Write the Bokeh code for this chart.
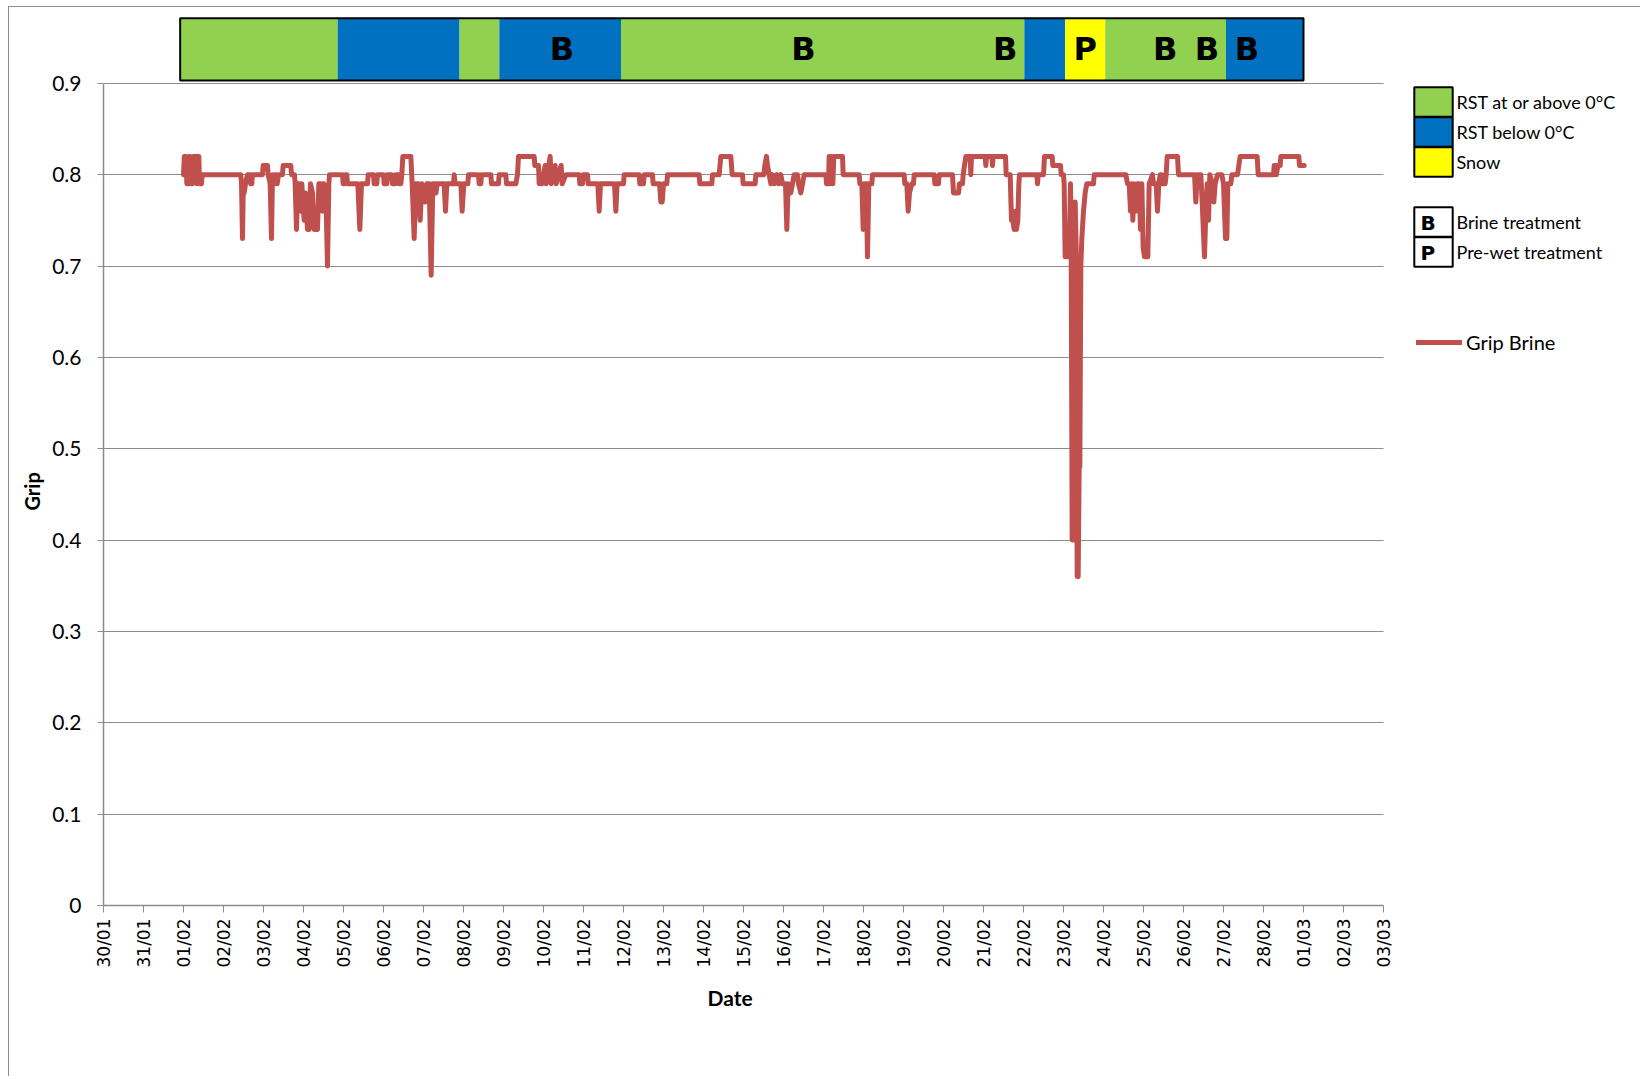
import numpy as np
import pandas as pd
from math import pi
from bokeh.plotting import figure
from bokeh.models import (FixedTicker, DatetimeTickFormatter, Legend, LegendItem,
                          Title, Label, ColumnDataSource, Range1d)
from bokeh.embed import file_html
from bokeh.resources import INLINE
from bokeh.core.properties import value

# ---------------- data ----------------
# hours since 01/02 00:00 and grip readings
grip_hours = [
    0, 0.5, 1.5, 2.0, 3.0, 3.4, 4.0, 4.4, 5.4, 5.8, 7.6, 8.0, 8.6, 9.2, 9.6, 10.8, 11.2,
    34.4, 34.8, 35.4, 35.9, 36.4, 37.2, 38.4, 40.0, 40.3, 41.0, 41.3, 47.4, 47.8, 50.4, 50.8,
    52.0, 52.8, 53.4, 54.4, 55.4, 56.2, 57.0, 59.4, 59.8, 64.4, 64.8, 66.6, 67.0, 67.8, 68.6,
    69.6, 70.4, 71.0, 72.4, 73.2, 74.4, 75.4, 76.2, 77.4, 78.4, 79.4, 80.4, 81.2, 82.6, 83.4,
    84.2, 85.4, 86.4, 87.2, 87.6, 95.4, 95.8, 96.8, 97.2, 98.0, 98.4, 104.6, 105.8, 106.8,
    110.4, 110.8, 114.0, 114.4, 116.0, 116.4, 120.0, 120.4, 122.0, 122.4, 125.0, 125.4, 127.0,
    127.4, 129.0, 129.4, 130.4, 131.0, 131.6, 136.4, 137.2, 138.4, 139.4, 141.0, 142.0, 143.0,
    145.0, 146.0, 147.4, 148.6, 149.6, 151.0, 151.5, 152.2, 156.4, 157.2, 158.0, 162.0, 162.4,
    163.0, 166.4, 167.2, 168.2, 170.6, 171.0, 177.0, 177.4, 178.4, 178.8, 184.4, 184.8, 189.0,
    189.4, 193.4, 193.8, 199.4, 200.4, 201.0, 210.4, 210.8, 213.0, 213.4, 214.6, 215.0, 217.0,
    217.6, 220.0, 220.6, 223.0, 223.6, 226.6, 227.2, 229.4, 237.4, 237.8, 239.4, 239.8, 242.4,
    242.8, 248.6, 249.4, 250.2, 258.6, 259.4, 260.2, 264.0, 264.4, 273.4, 273.8, 276.0, 276.4,
    281.4, 281.8, 285.6, 286.4, 287.2, 288.0, 290.0, 290.4, 309.4, 309.8, 317.0, 317.4, 321.4,
    322.4, 328.4, 329.2, 335.4, 335.8, 343.0, 343.4, 348.2, 348.8, 349.8, 350.4, 351.4, 352.4,
    353.4, 354.4, 356.0, 357.0, 358.4, 359.4, 361.2, 362.0, 362.8, 364.4, 365.4, 366.4, 368.4,
    369.0, 370.4, 371.4, 372.4, 385.4, 385.8, 387.0, 387.4, 388.2, 388.8, 389.6, 390.2, 395.4,
    395.8, 405.4, 405.8, 407.0, 407.8, 408.6, 409.6, 410.4, 411.2, 413.0, 413.4, 432.4, 432.8,
    434.0, 434.8, 435.6, 437.0, 438.0, 438.4, 450.4, 450.8, 453.0, 453.4, 461.4, 462.0, 465.0,
    465.6, 467.4, 467.8, 468.6, 469.4, 472.0, 472.4, 472.8, 481.0, 481.4, 481.8, 485.0, 485.4,
    485.8, 493.2, 493.6, 496.0, 496.8, 497.6, 498.4, 499.2, 499.8, 500.6, 501.2, 501.6, 512.0,
    512.4, 512.8, 516.0, 516.6, 521.2, 521.6, 526.2, 526.6, 528.0, 528.4, 529.0, 531.4, 532.2,
    532.6, 533.2, 534.6, 535.0, 535.6, 536.2, 536.8, 537.4, 537.8, 538.4, 539.0, 540.0, 541.0,
    542.0, 546.0, 546.4, 565.4, 566.4, 567.4, 568.2, 569.0, 569.6, 570.4, 571.4, 572.2, 573.4,
    574.2, 575.0, 575.8, 576.6, 578.6, 579.4, 581.4, 582.0, 583.6, 584.4, 585.2, 586.0, 587.0,
    587.4, 589.0, 589.6, 590.2, 596.4, 597.0, 606.6, 607.4, 608.2, 610.4, 611.2, 612.6, 613.4,
    614.2, 615.0, 615.8, 617.2, 618.2, 619.0, 620.4, 623.0, 624.0, 625.2, 626.0, 626.6, 628.4,
    629.0, 632.4, 633.2, 634.0, 644.2, 644.8, 654.0, 654.4, 655.4, 655.8, 656.6, 658.0, 658.4,
    669.2, 669.6, 672.4,
]
grip_values = [
    0.80, 0.82, 0.82, 0.79, 0.79, 0.82, 0.82, 0.79, 0.79, 0.82, 0.82, 0.79, 0.82, 0.82, 0.79, 0.79, 0.80,
    0.80, 0.79, 0.73, 0.79, 0.78, 0.79, 0.80, 0.80, 0.79, 0.79, 0.80, 0.80, 0.81, 0.81, 0.80,
    0.79, 0.73, 0.80, 0.79, 0.80, 0.79, 0.80, 0.80, 0.81, 0.81, 0.80, 0.80, 0.79, 0.74, 0.79,
    0.79, 0.76, 0.79, 0.75, 0.78, 0.74, 0.74, 0.79, 0.78, 0.74, 0.75, 0.74, 0.79, 0.79, 0.76,
    0.79, 0.78, 0.70, 0.79, 0.80, 0.80, 0.79, 0.79, 0.80, 0.80, 0.79, 0.79, 0.74, 0.79,
    0.79, 0.80, 0.80, 0.79, 0.79, 0.80, 0.80, 0.79, 0.79, 0.80, 0.80, 0.79, 0.79,
    0.80, 0.80, 0.79, 0.79, 0.80, 0.82, 0.82, 0.79, 0.73, 0.79, 0.79, 0.75, 0.79,
    0.77, 0.79, 0.79, 0.69, 0.79, 0.79, 0.78, 0.79, 0.79, 0.76, 0.79, 0.79, 0.80,
    0.79, 0.79, 0.76, 0.79, 0.79, 0.80, 0.80, 0.79, 0.79, 0.80, 0.80, 0.79, 0.79,
    0.80, 0.80, 0.79, 0.79, 0.80, 0.82, 0.82, 0.81, 0.81, 0.79, 0.80, 0.79, 0.81,
    0.79, 0.82, 0.79, 0.81, 0.79, 0.81, 0.79, 0.80, 0.80, 0.79, 0.79, 0.80, 0.80,
    0.79, 0.79, 0.76, 0.79, 0.79, 0.76, 0.79, 0.79, 0.80, 0.80, 0.79, 0.79, 0.80,
    0.80, 0.79, 0.79, 0.77, 0.77, 0.79, 0.79, 0.80, 0.80, 0.79, 0.79, 0.80, 0.80,
    0.82, 0.82, 0.80, 0.80, 0.79, 0.79, 0.80, 0.80, 0.81, 0.82, 0.81, 0.80, 0.79,
    0.80, 0.79, 0.80, 0.79, 0.80, 0.79, 0.79, 0.74, 0.79, 0.78, 0.79, 0.80, 0.80,
    0.79, 0.78, 0.79, 0.80, 0.80, 0.79, 0.79, 0.82, 0.79, 0.82, 0.79, 0.82, 0.82,
    0.80, 0.80, 0.79, 0.79, 0.74, 0.79, 0.79, 0.71, 0.79, 0.79, 0.80, 0.80, 0.79,
    0.79, 0.76, 0.78, 0.79, 0.79, 0.80, 0.80, 0.79, 0.79, 0.80, 0.80, 0.78, 0.78,
    0.79, 0.79, 0.80, 0.81, 0.82, 0.82, 0.80, 0.82, 0.82, 0.81, 0.82, 0.82, 0.81,
    0.82, 0.82, 0.80, 0.80, 0.75, 0.75, 0.74, 0.76, 0.74, 0.75, 0.79, 0.80, 0.80,
    0.79, 0.80, 0.80, 0.82, 0.82, 0.81, 0.81, 0.80, 0.80, 0.79, 0.71, 0.71, 0.79,
    0.73, 0.40, 0.40, 0.77, 0.72, 0.36, 0.36, 0.48, 0.48, 0.70, 0.73, 0.76, 0.78,
    0.79, 0.79, 0.80, 0.80, 0.79, 0.79, 0.76, 0.79, 0.75, 0.79, 0.76, 0.79, 0.79,
    0.74, 0.79, 0.72, 0.71, 0.71, 0.79, 0.80, 0.79, 0.79, 0.76, 0.79, 0.80, 0.80,
    0.79, 0.79, 0.80, 0.82, 0.82, 0.80, 0.80, 0.77, 0.80, 0.80, 0.77, 0.71, 0.76,
    0.79, 0.75, 0.80, 0.79, 0.77, 0.79, 0.80, 0.80, 0.79, 0.73, 0.73, 0.79, 0.79,
    0.80, 0.80, 0.81, 0.82, 0.82, 0.80, 0.80, 0.81, 0.81, 0.80, 0.81, 0.81, 0.82,
    0.82, 0.81, 0.81,
]

# road-state bar: hours since 01/02 00:00 and condition
seg_start_hours = [-2, 92.5, 165.5, 189.5, 262.5, 504.5, 529, 553, 625.5]
seg_end_hours = [92.5, 165.5, 189.5, 262.5, 504.5, 529, 553, 625.5, 672]
seg_condition = ["above", "below", "above", "below", "above", "below", "snow", "above", "below"]

# treatments: hours since 01/02 00:00 (label position) and code
treat_hours = [227, 372, 493, 541, 589, 614, 638]
treat_codes = ["B", "B", "B", "P", "B", "B", "B"]

y_tick_values = [0, 0.1, 0.2, 0.3, 0.4, 0.5, 0.6, 0.7, 0.8, 0.9]
x_first_tick = "2013-01-30"
x_last_tick = "2013-03-03"
series_start = "2013-02-01"

# ---------------- styles / layout ----------------
COND_COLORS = {"above": "#92D050", "below": "#0070C0", "snow": "#FFFF00"}
COND_LABELS = {"above": "RST at or above 0°C", "below": "RST below 0°C", "snow": "Snow"}
TREAT_LABELS = {"B": "Brine treatment", "P": "Pre-wet treatment"}
LINE_COLOR = "#C0504D"
GRID_COLOR = "#8c8c8c"
BAR_BOTTOM, BAR_TOP = 0.9030, 0.9711
FONT = "Lato"
FIG_W, FIG_H = 1632, 1070
BORDER_L, BORDER_T, BORDER_B = 94, 7, 172
AXIS_PX = 1280            # width of the dated axis span (30/01 .. 03/03)

t0 = pd.Timestamp(series_start)
times = t0 + pd.to_timedelta(np.array(grip_hours), unit="h")
tick_dates = pd.date_range(x_first_tick, x_last_tick, freq="D")
tick_ms = (tick_dates.asi8 // 10**6).tolist()
x_start_ms, x_last_ms = tick_ms[0], tick_ms[-1]
frame_w = FIG_W - BORDER_L
x_end_ms = x_start_ms + (x_last_ms - x_start_ms) * frame_w / AXIS_PX

p = figure(width=FIG_W, height=FIG_H, x_axis_type="datetime",
           x_range=Range1d(x_start_ms, x_end_ms), y_range=Range1d(0, 0.9753),
           output_backend="svg", toolbar_location=None,
           min_border_left=BORDER_L, min_border_right=0, min_border_top=BORDER_T,
           min_border_bottom=BORDER_B)
p.styles = {"margin-left": "8px", "margin-top": "6px",
            "border-left": "1px solid #8c8c8c", "border-top": "1px solid #8c8c8c"}
p.outline_line_color = None
p.background_fill_color = "white"

# axes
xa = p.xaxis[0]
xa.ticker = FixedTicker(ticks=tick_ms)
xa.bounds = (x_start_ms, x_last_ms)
xa.formatter = DatetimeTickFormatter(days="%d/%m", months="%d/%m", hours="%d/%m")
xa.major_label_orientation = pi / 2
xa.axis_line_color = GRID_COLOR
xa.axis_line_width = 1.5
xa.major_tick_line_color = GRID_COLOR
xa.major_tick_out = 7
xa.major_tick_in = 0
xa.minor_tick_line_color = None
xa.major_label_standoff = 6
xa.major_label_text_font = "DejaVu Sans"
xa.major_label_text_font_size = "17px"
xa.major_label_text_color = "black"

ya = p.yaxis[0]
ya.ticker = FixedTicker(ticks=y_tick_values)
ya.bounds = (y_tick_values[0], y_tick_values[-1])
ya.major_label_overrides = {0: "0"}
ya.axis_line_color = GRID_COLOR
ya.axis_line_width = 1.5
ya.major_tick_line_color = GRID_COLOR
ya.major_tick_out = 6
ya.major_tick_in = 0
ya.minor_tick_line_color = None
ya.major_label_standoff = 16
ya.major_label_text_font = FONT
ya.major_label_text_font_size = "21px"
ya.major_label_text_color = "black"

p.add_layout(Title(text="Grip", align="left", offset=395, standoff=12,
                   text_font=FONT, text_font_style="bold", text_font_size="20px",
                   text_color="black"), "left")
p.add_layout(Title(text="Date", align="left", offset=604, standoff=28, vertical_align="top",
                   text_font=FONT, text_font_style="bold", text_font_size="21px",
                   text_color="black"), "below")

p.xgrid.visible = False
p.ygrid.ticker = FixedTicker(ticks=y_tick_values)
p.ygrid.grid_line_color = GRID_COLOR
p.ygrid.grid_line_width = 1.2
p.ygrid.cross_bounds = (x_start_ms, x_last_ms)

# road state bar, one renderer per condition
seg_left = t0 + pd.to_timedelta(np.array(seg_start_hours), unit="h")
seg_right = t0 + pd.to_timedelta(np.array(seg_end_hours), unit="h")
cond_r = {}
for cond, color in COND_COLORS.items():
    m = np.array(seg_condition) == cond
    cond_r[cond] = p.quad(left=seg_left[m], right=seg_right[m], bottom=BAR_BOTTOM, top=BAR_TOP,
                          fill_color=color, line_color=None)
outline_r = p.quad(left=[seg_left.min()], right=[seg_right.max()],
                   bottom=BAR_BOTTOM, top=BAR_TOP, fill_color=None,
                   line_color="black", line_width=2)

treat_src = ColumnDataSource(dict(
    x=t0 + pd.to_timedelta(np.array(treat_hours), unit="h"),
    text=treat_codes,
))
p.text(x="x", y=(BAR_BOTTOM + BAR_TOP) / 2, text="text", source=treat_src,
       text_font=value("DejaVu Sans"), text_font_style="bold", text_font_size="32px",
       text_align="center", text_baseline="middle", text_color="black")

# grip line
line_r = p.line(times, grip_values, line_color=LINE_COLOR, line_width=5,
                line_join="round", line_cap="round")

# ---------------- legends (one box per entry, stacked 30 px apart) ----------------
box_common = dict(orientation="vertical", glyph_width=48, glyph_height=37, label_height=37,
                  padding=0, margin=0, label_standoff=0,
                  border_line_color=None, background_fill_alpha=0,
                  label_text_font=FONT, label_text_font_size="18px", label_text_color="black")
entries = [(COND_LABELS[k], [cond_r[k], outline_r]) for k in ["above", "below", "snow"]]
entries += [(TREAT_LABELS[k], [outline_r]) for k in ["B", "P"]]
legend_vy = [785, 755, 725, 665, 635]
for (lab, rends), vy in zip(entries, legend_vy):
    p.add_layout(Legend(items=[LegendItem(label=lab, renderers=rends)],
                        location=(1305.5, vy), **box_common))

p.add_layout(Legend(items=[LegendItem(label="Grip Brine", renderers=[line_r])],
                    location=(1313, 551), orientation="vertical",
                    glyph_width=46, glyph_height=20, label_height=20,
                    padding=0, margin=0, label_standoff=4, border_line_color=None,
                    background_fill_alpha=0, label_text_font=FONT,
                    label_text_font_size="20px", label_text_color="black"))

for code, ypos in zip(["B", "P"], [683, 653]):
    p.add_layout(Label(x=1317, y=ypos, x_units="screen", y_units="screen", text=code,
                       text_font="DejaVu Sans", text_font_style="bold", text_font_size="20px",
                       text_align="left", text_baseline="middle", text_color="black"))

open("out.html", "w").write(file_html(p, INLINE))
